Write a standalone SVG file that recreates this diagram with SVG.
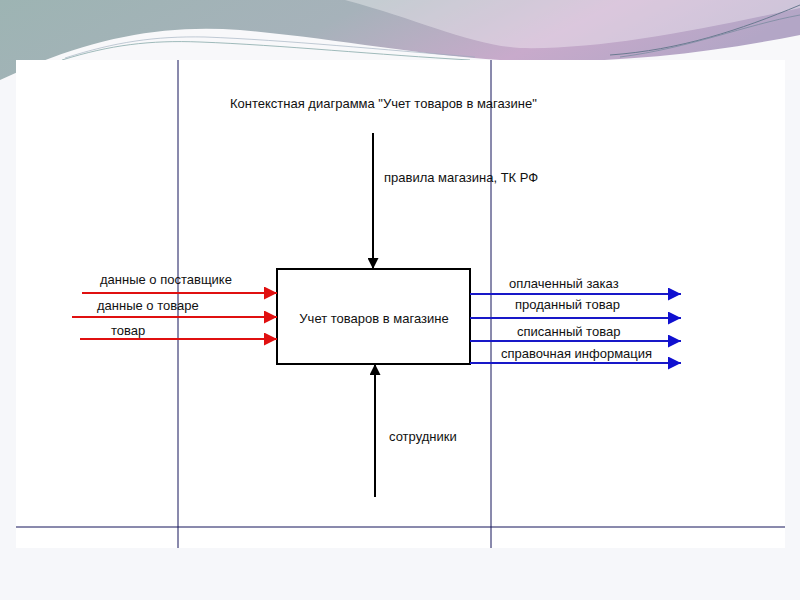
<svg xmlns="http://www.w3.org/2000/svg" width="800" height="600" viewBox="0 0 800 600">
<defs>
<linearGradient id="bg" x1="0" y1="0" x2="1" y2="0.2">
<stop offset="0" stop-color="#9db4b3"/>
<stop offset="0.45" stop-color="#a6b2ba"/>
<stop offset="0.75" stop-color="#c8aacb"/>
<stop offset="1" stop-color="#b3a6c6"/>
</linearGradient>
<marker id="ar" viewBox="0 0 10 10" refX="10" refY="5" markerWidth="16" markerHeight="13" markerUnits="userSpaceOnUse" orient="auto"><path d="M0,0 L10,5 L0,10 Z" fill="#e01010"/></marker>
<marker id="ab" viewBox="0 0 10 10" refX="10" refY="5" markerWidth="16" markerHeight="13" markerUnits="userSpaceOnUse" orient="auto"><path d="M0,0 L10,5 L0,10 Z" fill="#1010d0"/></marker>
<marker id="ak" viewBox="0 0 10 10" refX="10" refY="5" markerWidth="14" markerHeight="11" markerUnits="userSpaceOnUse" orient="auto"><path d="M0,0 L10,5 L0,10 Z" fill="#000"/></marker>
</defs>
<style>
text{font-family:"Liberation Sans",Arial,sans-serif;font-size:13px;fill:#111}
.grid{stroke:#14145a;stroke-width:1;fill:none}
.in{stroke:#e01010;stroke-width:2;fill:none;marker-end:url(#ar)}
.out{stroke:#1818c8;stroke-width:2;fill:none;marker-end:url(#ab)}
.ctl{stroke:#000;stroke-width:2;fill:none;marker-end:url(#ak)}
</style>
<rect width="800" height="600" fill="#f6f7fa"/>
<path d="M0,0 H800 V80 H0 Z" fill="url(#bg)"/>
<path d="M40,62 C110,35 170,25 240,30 C330,38 420,55 500,60 C600,65 700,55 800,35 V80 H0 Z" fill="#f8f8fa"/>
<path d="M345,0 C420,20 470,45 520,48 C600,50 700,30 800,8 V0 Z" fill="#ffffff" opacity="0.35"/>
<path d="M62,60 C110,45 150,40 200,42 C280,45 380,55 470,60" stroke="#8aa" stroke-width="0.8" fill="none"/>
<path d="M65,58 C115,42 155,36 205,37 C285,40 385,50 475,57" stroke="#9ab" stroke-width="0.6" fill="none"/>
<path d="M610,55 C680,50 740,30 800,5" stroke="#6a7a90" stroke-width="1" fill="none"/>
<path d="M620,57 C690,48 745,25 800,15" stroke="#7a8aa0" stroke-width="0.8" fill="none"/>
<rect x="16" y="60" width="769" height="488" fill="#ffffff"/>
<g id="grid">
<line class="grid" x1="178" y1="60" x2="178" y2="548"/>
<line class="grid" x1="491" y1="60" x2="491" y2="548"/>
<line class="grid" x1="16" y1="527" x2="785" y2="527"/>
</g>
<g id="title"><text x="230" y="108">Контекстная диаграмма "Учет товаров в магазине"</text></g>
<g id="process">
<rect x="277" y="269" width="193" height="95" fill="#fff" stroke="#000" stroke-width="2"/>
<text x="374" y="323" text-anchor="middle">Учет товаров в магазине</text>
</g>
<g id="connectors">
<path class="ctl" d="M373,133 V269"/>
<path class="ctl" d="M375,497 V364"/>
<path class="in" d="M82,293 H277"/>
<path class="in" d="M72,317 H277"/>
<path class="in" d="M80,339 H277"/>
<path class="out" d="M470,294 H681"/>
<path class="out" d="M470,318 H681"/>
<path class="out" d="M470,341 H681"/>
<path class="out" d="M470,363 H681"/>
</g>
<g id="labels">
<text x="384" y="182">правила магазина, ТК РФ</text>
<text x="389" y="441">сотрудники</text>
<text x="100" y="284">данные о поставщике</text>
<text x="97" y="310">данные о товаре</text>
<text x="111" y="335">товар</text>
<text x="509" y="288">оплаченный заказ</text>
<text x="515" y="309">проданный товар</text>
<text x="517" y="336">списанный товар</text>
<text x="501" y="358">справочная информация</text>
</g>
</svg>
